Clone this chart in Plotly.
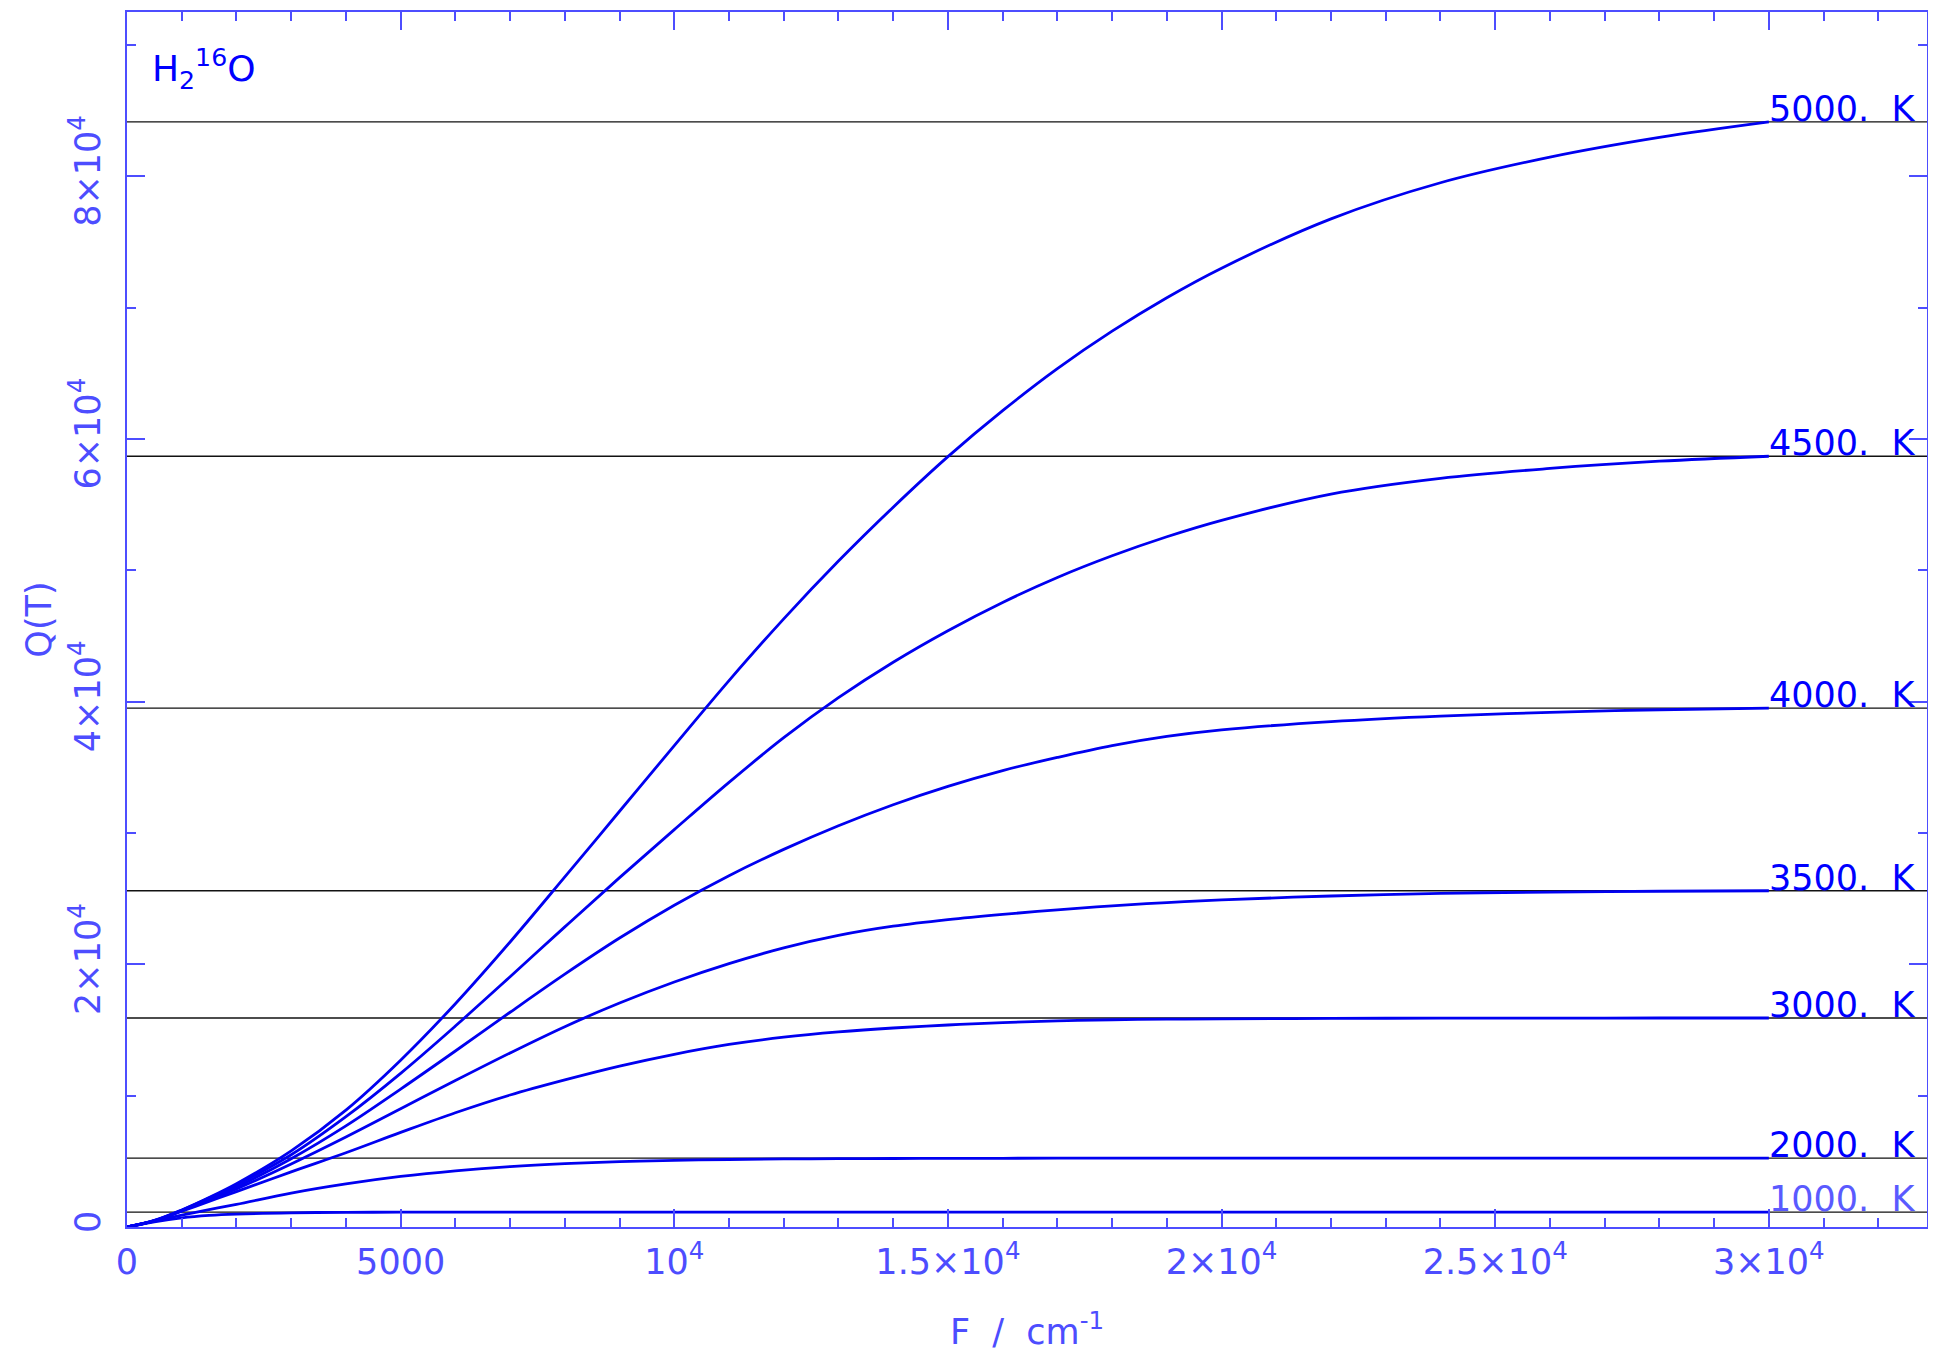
import plotly.graph_objects as go

# Energy cut-off F (cm^-1)
F = [0, 500, 1000, 1500, 2000, 3000, 4000, 5000, 6000, 7000, 8000, 9000, 10000,
     11000, 12000, 13000, 14000, 15000, 16000, 17000, 18000, 19000, 20000, 22000,
     24000, 26000, 28000, 30000]

temperatures = ["1000.\u00a0\u00a0K", "2000.\u00a0\u00a0K", "3000.\u00a0\u00a0K", "3500.\u00a0\u00a0K",
                "4000.\u00a0\u00a0K", "4500.\u00a0\u00a0K", "5000.\u00a0\u00a0K"]

Q1000 = [0, 400, 700, 880, 980, 1080, 1115, 1130, 1137, 1140, 1140, 1140, 1140,
         1140, 1140, 1140, 1140, 1140, 1140, 1140, 1140, 1140, 1140, 1140, 1140, 1140, 1140, 1140]
Q2000 = [0, 450, 900, 1320, 1720, 2580, 3280, 3850, 4280, 4600, 4820, 4970, 5070,
         5140, 5180, 5200, 5215, 5225, 5232, 5238, 5242, 5244, 5246, 5248, 5250, 5250, 5250, 5250]
Q3000 = [0, 460, 1200, 1950, 2690, 4200, 5650, 7200, 8700, 10050, 11200, 12250, 13150,
         13900, 14450, 14850, 15150, 15380, 15560, 15700, 15780, 15820, 15850, 15880, 15900, 15905, 15910, 15910]
Q3500 = [0, 470, 1230, 2050, 2900, 4800, 6850, 9000, 11150, 13250, 15250, 17050, 18650,
         20050, 21250, 22200, 22900, 23400, 23800, 24150, 24450, 24700, 24900, 25200, 25400, 25500, 25560, 25600]
Q4000 = [0, 480, 1250, 2120, 3050, 5200, 7700, 10500, 13400, 16350, 19250, 22000, 24500,
         26750, 28750, 30550, 32150, 33550, 34750, 35750, 36650, 37350, 37850, 38480, 38900, 39180, 39380, 39500]
Q4500 = [0, 490, 1280, 2200, 3200, 5500, 8400, 11700, 15300, 19050, 22850, 26600, 30250,
         33850, 37250, 40300, 43000, 45400, 47550, 49450, 51100, 52550, 53800, 55800, 57000, 57750, 58300, 58680]
Q5000 = [0, 500, 1300, 2250, 3300, 5800, 8900, 12700, 17000, 21700, 26650, 31650, 36650,
         41600, 46300, 50700, 54800, 58650, 62150, 65350, 68200, 70750, 73000, 76750, 79500, 81450, 82950, 84130]

series = [Q1000, Q2000, Q3000, Q3500, Q4000, Q4500, Q5000]

x_tickvals = [0, 5000, 10000, 15000, 20000, 25000, 30000]
x_ticktext = ["0", "5000", "10<sup>4</sup>", "1.5×10<sup>4</sup>", "2×10<sup>4</sup>",
              "2.5×10<sup>4</sup>", "3×10<sup>4</sup>"]
y_tickvals = [0, 20000, 40000, 60000, 80000]
y_ticktext = ["0", "2×10<sup>4</sup>", "4×10<sup>4</sup>", "6×10<sup>4</sup>", "8×10<sup>4</sup>"]

X_MAX = 32890
Y_MAX = 92500

AXIS_BLUE = "#4d4dff"
CURVE_BLUE = "#0000f0"
FONT = "DejaVu Sans"
FS = 35

fig = go.Figure()

# horizontal reference lines at the total partition function of each temperature
for q in series:
    fig.add_trace(go.Scatter(x=[0, X_MAX], y=[q[-1], q[-1]], mode="lines",
                             line=dict(color="#111111", width=1.3),
                             hoverinfo="skip", showlegend=False))

for q in series:
    fig.add_trace(go.Scatter(x=F, y=q, mode="lines",
                             line=dict(color=CURVE_BLUE, width=2.8, shape="spline", smoothing=1.0),
                             showlegend=False))

for i, (lab, q) in enumerate(zip(temperatures, series)):
    fig.add_annotation(x=F[-1], y=q[-1], text=lab, showarrow=False,
                       xanchor="left", yanchor="bottom", yshift=-9, xshift=-2,
                       font=dict(family=FONT, size=FS,
                                 color="#5a5aff" if i == 0 else "#0000ff"))

fig.add_annotation(x=0.013, y=0.976, xref="paper", yref="paper",
                   text="H<sub>2</sub><sup>16</sup>O", showarrow=False,
                   xanchor="left", yanchor="top",
                   font=dict(family=FONT, size=36, color="#0000ff"))

axis_common = dict(showline=True, linecolor=AXIS_BLUE, linewidth=2, mirror="ticks",
                   ticks="inside", ticklen=18, tickwidth=1.5, tickcolor=AXIS_BLUE,
                   showgrid=False, zeroline=False, automargin=False,
                   tickfont=dict(family=FONT, size=FS, color=AXIS_BLUE))

fig.update_xaxes(range=[0, X_MAX], tickmode="array", tickvals=x_tickvals, ticktext=x_ticktext,
                 minor=dict(dtick=1000, ticks="inside", ticklen=9, tickcolor=AXIS_BLUE, tickwidth=1.5),
                 ticklabelstandoff=3,
                 title=dict(text="F  /  cm<sup>-1</sup>", standoff=44,
                            font=dict(family=FONT, size=FS, color=AXIS_BLUE)),
                 **axis_common)
fig.update_yaxes(range=[0, Y_MAX], tickmode="array", tickvals=y_tickvals, ticktext=y_ticktext,
                 tickangle=-90,
                 minor=dict(dtick=10000, ticks="inside", ticklen=9, tickcolor=AXIS_BLUE, tickwidth=1.5),
                 ticklabelstandoff=11,
                 title=dict(text="Q(T)", standoff=0,
                            font=dict(family=FONT, size=FS, color=AXIS_BLUE)),
                 **axis_common)

fig.update_layout(width=1920, height=1344, plot_bgcolor="white", paper_bgcolor="white",
                  margin=dict(l=119, r=1, t=4, b=125), showlegend=False)

fig.write_html("out.html")
